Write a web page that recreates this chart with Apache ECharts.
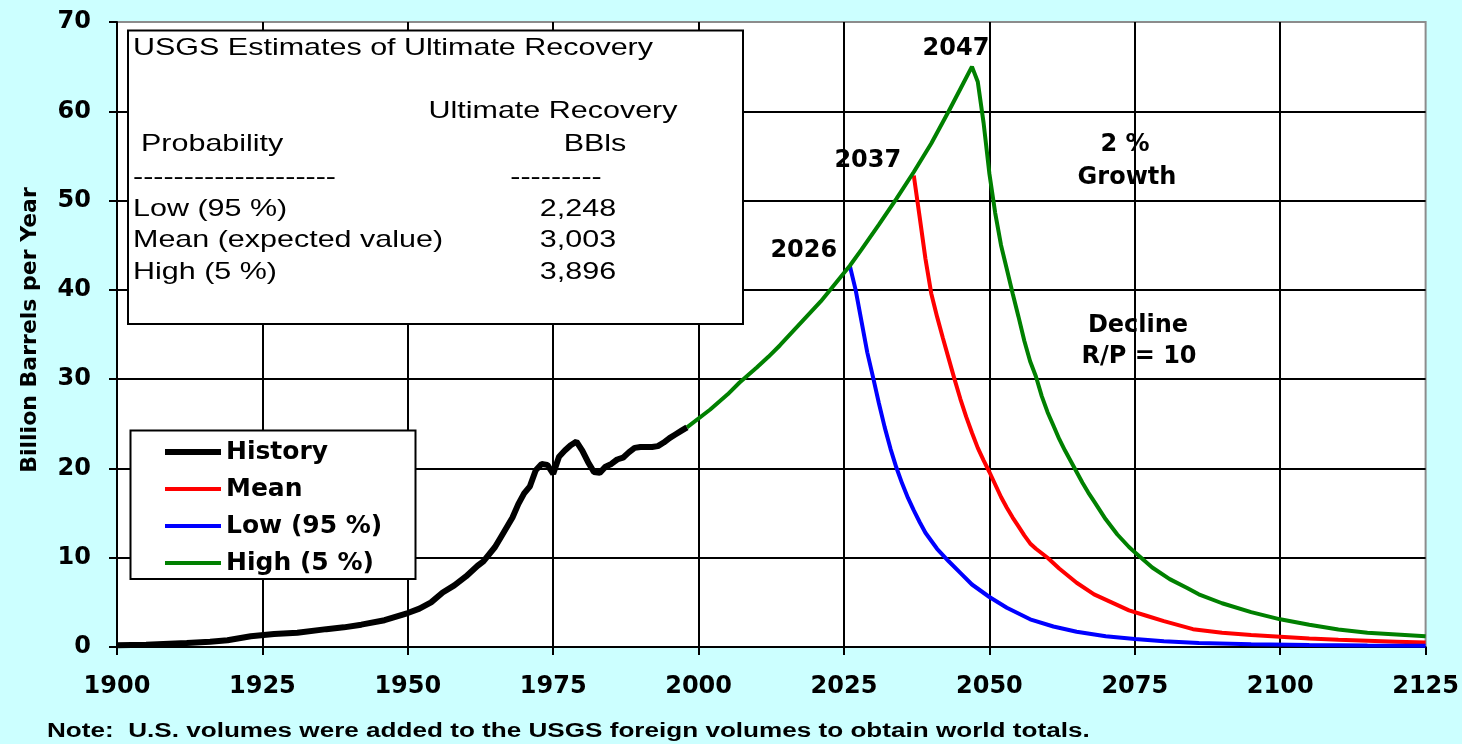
<!DOCTYPE html>
<html><head><meta charset="utf-8">
<script src="https://cdn.jsdelivr.net/npm/echarts@6/dist/echarts.min.js"></script>
<style>html,body{margin:0;padding:0;background:#ccffff;} #c{width:1462px;height:744px;}</style>
</head><body><div id="c"></div>
<script>
// ---- data ----
const seriesNames = ['History', 'Mean', 'Low (95 %)', 'High (5 %)'];
const seriesColors = ['#000000', '#ff0000', '#0000ff', '#008000'];

const histYears  = [1900,1905,1908,1912,1916,1919,1923,1927,1931,1936,1939,1942,1946,1950,1952,1954,1956,1958,1960,1962,1963,1965,1966,1968,1969,1970,1971,1972,1973,1974,1975,1976,1977,1978,1979,1980,1981,1982,1983,1984,1985,1986,1987,1988,1989,1990,1991,1992,1993,1994,1995,1996,1997,1998];
const histValues = [0.2,0.25,0.35,0.45,0.6,0.75,1.2,1.45,1.6,2.0,2.2,2.5,3.0,3.8,4.3,5.0,6.1,6.9,7.9,9.1,9.6,11.2,12.3,14.5,16.0,17.2,18.0,19.8,20.5,20.4,19.4,21.3,22.0,22.6,23.0,22.0,20.7,19.6,19.5,20.2,20.5,21.0,21.2,21.8,22.3,22.4,22.4,22.4,22.5,22.9,23.4,23.8,24.2,24.6];

const meanYears  = [2037,2038,2039,2040,2041,2042,2043,2044,2045,2046,2047,2048,2049,2050,2051,2052,2053,2054,2055,2056,2057,2058,2060,2062,2065,2068,2071,2074,2077,2080,2085,2090,2095,2100,2105,2110,2115,2120,2125];
const meanValues = [52.8,48.2,43.5,39.6,37.0,34.6,32.3,30.0,27.8,25.8,24.0,22.3,20.9,19.6,18.2,16.8,15.6,14.5,13.5,12.5,11.6,11.0,10.0,8.8,7.2,5.9,5.0,4.1,3.5,2.9,2.0,1.6,1.35,1.15,0.95,0.8,0.7,0.6,0.5];

const lowYears  = [2026,2027,2028,2029,2030,2031,2032,2033,2034,2035,2036,2037,2038,2039,2040,2041,2042,2043,2045,2047,2050,2053,2057,2061,2065,2070,2075,2080,2086,2095,2105,2115,2125];
const lowValues = [42.7,40.0,36.5,33.0,30.2,27.3,24.6,22.2,20.1,18.3,16.7,15.3,14.0,12.8,11.9,11.0,10.3,9.6,8.3,7.0,5.6,4.4,3.1,2.3,1.7,1.2,0.9,0.65,0.45,0.3,0.22,0.18,0.15];

const highYears  = [1998,2002,2005,2007,2010,2012,2014,2016,2018,2021,2023,2026,2028,2031,2034,2037,2040,2043,2045,2047,2048,2049,2050,2051,2052,2053,2054,2055,2056,2057,2058,2059,2060,2061,2062,2063,2064,2065,2066,2067,2068,2069,2070,2072,2074,2075,2078,2081,2084,2086,2090,2095,2100,2105,2110,2115,2120,2125];
const highValues = [24.6,26.6,28.3,29.6,31.3,32.5,33.8,35.2,36.6,38.7,40.3,42.7,44.5,47.3,50.2,53.2,56.4,60.0,62.5,65.0,63.3,58.7,53.0,48.6,45.0,42.3,39.6,37.0,34.3,32.0,30.3,28.1,26.3,24.8,23.3,22.0,20.8,19.6,18.4,17.3,16.3,15.3,14.3,12.6,11.2,10.6,8.9,7.6,6.6,5.9,4.9,3.9,3.1,2.5,1.95,1.6,1.4,1.2];

const peakLabels = [
  { series: 2, year: 2026, value: 42.7, text: '2026' },
  { series: 1, year: 2037, value: 52.8, text: '2037' },
  { series: 3, year: 2047, value: 65.0, text: '2047' }
];

const boxTitle = 'USGS Estimates of Ultimate Recovery';
const colHeader1 = 'Ultimate Recovery';
const colHeader2 = 'BBls';
const rowHeader = 'Probability';
const probLabels = ['Low (95 %)', 'Mean (expected value)', 'High (5 %)'];
const recoveryValues = ['2,248', '3,003', '3,896'];
const noteText = 'Note:  U.S. volumes were added to the USGS foreign volumes to obtain world totals.';
const yTitle = 'Billion Barrels per Year';

// ---- chart ----
const chart = echarts.init(document.getElementById('c'));
const pairs = (xs, ys) => xs.map((x, i) => [x, ys[i]]);
const seriesData = [pairs(histYears, histValues), pairs(meanYears, meanValues), pairs(lowYears, lowValues), pairs(highYears, highValues)];
const lineWidths = [6, 4, 4, 4];

const BOLD = { fontFamily: 'DejaVu Sans', fontWeight: 'bold', fontSize: 24, color: '#000' };

const series = seriesNames.map((name, i) => {
  const s = {
    name, type: 'line', data: seriesData[i], symbol: 'none', showSymbol: false,
    lineStyle: { color: seriesColors[i], width: lineWidths[i] },
    itemStyle: { color: seriesColors[i] },
    z: 2 + (i === 0 ? 1 : 0), animation: false
  };
  const marks = peakLabels.filter(p => p.series === i);
  if (marks.length) {
    s.markPoint = {
      symbol: 'circle', symbolSize: 0, animation: false,
      label: { show: true, formatter: '{b}', ...BOLD, offset: i === 3 ? [-16, -18] : [-46, -15] },
      data: marks.map(p => ({ name: p.text, coord: [p.year, p.value] }))
    };
  }
  return s;
});

const SX = 1.27;
const reg = (text, x, y, align) => ({
  type: 'text', x, y, scaleX: SX, z: 11,
  style: { text, fontFamily: 'Liberation Sans', fontSize: 24, fill: '#000', align: align || 'left', verticalAlign: 'middle' }
});
const bold = (text, x, y) => ({
  type: 'text', x, y, z: 11,
  style: { text, fontFamily: 'DejaVu Sans', fontWeight: 'bold', fontSize: 24, fill: '#000', align: 'center', verticalAlign: 'middle' }
});

const graphics = [
  { type: 'rect', z: 10, shape: { x: 128, y: 30.5, width: 615, height: 293.5 }, style: { fill: '#fff', stroke: '#000', lineWidth: 2 } },
  reg(boxTitle, 133, 48),
  reg(colHeader1, 553, 111, 'center'),
  reg(rowHeader, 141, 144),
  reg(colHeader2, 595, 144, 'center'),
  reg('--------------------', 133, 177),
  reg('---------', 556, 177, 'center'),
  reg(probLabels[0], 133, 209), reg(recoveryValues[0], 578, 209, 'center'),
  reg(probLabels[1], 133, 240), reg(recoveryValues[1], 578, 240, 'center'),
  reg(probLabels[2], 133, 272), reg(recoveryValues[2], 578, 272, 'center'),
  { type: 'rect', z: 10, shape: { x: 130.5, y: 430.5, width: 285, height: 148.5 }, style: { fill: '#fff', stroke: '#000', lineWidth: 2 } },
  bold('2 %', 1125, 145), bold('Growth', 1127, 178),
  bold('Decline', 1138, 326), bold('R/P = 10', 1139, 357),
  { type: 'text', x: 30, y: 330, rotation: Math.PI / 2, z: 11,
    style: { text: yTitle, fontFamily: 'DejaVu Sans', fontWeight: 'bold', fontSize: 22, fill: '#000', align: 'center', verticalAlign: 'middle' } },
  { type: 'text', x: 47, y: 731, scaleX: 1.305, z: 11,
    style: { text: noteText, fontFamily: 'Liberation Sans', fontWeight: 'bold', fontSize: 20, fill: '#000', align: 'left', verticalAlign: 'middle' } }
];

chart.setOption({
  animation: false,
  backgroundColor: '#ccffff',
  grid: { left: 117, right: 36, top: 22, bottom: 97, show: true, backgroundColor: '#fff', borderColor: '#8c8c8c', borderWidth: 2 },
  xAxis: {
    type: 'value', min: 1900, max: 2125, interval: 25,
    axisLine: { show: true, onZero: false, lineStyle: { color: '#000', width: 2 } },
    axisTick: { show: true, length: 8, lineStyle: { color: '#000', width: 2 } },
    axisLabel: { ...BOLD, margin: 28, formatter: v => String(v) },
    splitLine: { show: true, showMaxLine: false, lineStyle: { color: '#000', width: 2 } }
  },
  yAxis: {
    type: 'value', min: 0, max: 70, interval: 10,
    axisLine: { show: true, lineStyle: { color: '#000', width: 2 } },
    axisTick: { show: true, length: 8, lineStyle: { color: '#000', width: 2 } },
    axisLabel: { ...BOLD, margin: 26 },
    splitLine: { show: true, showMaxLine: false, showMinLine: false, lineStyle: { color: '#000', width: 2 } }
  },
  legend: {
    orient: 'vertical', left: 162, top: 439, padding: 0, z: 12,
    itemWidth: 56, itemHeight: 1, itemGap: 11, selectedMode: false,
    textStyle: { fontFamily: 'DejaVu Sans', fontWeight: 'bold', fontSize: 25, lineHeight: 26, color: '#000' },
    data: seriesNames.map((name, i) => ({
      name,
      lineStyle: { width: lineWidths[i], color: seriesColors[i] },
      itemStyle: { opacity: 0 }
    }))
  },
  graphic: graphics,
  series
});
</script>
</body></html>
